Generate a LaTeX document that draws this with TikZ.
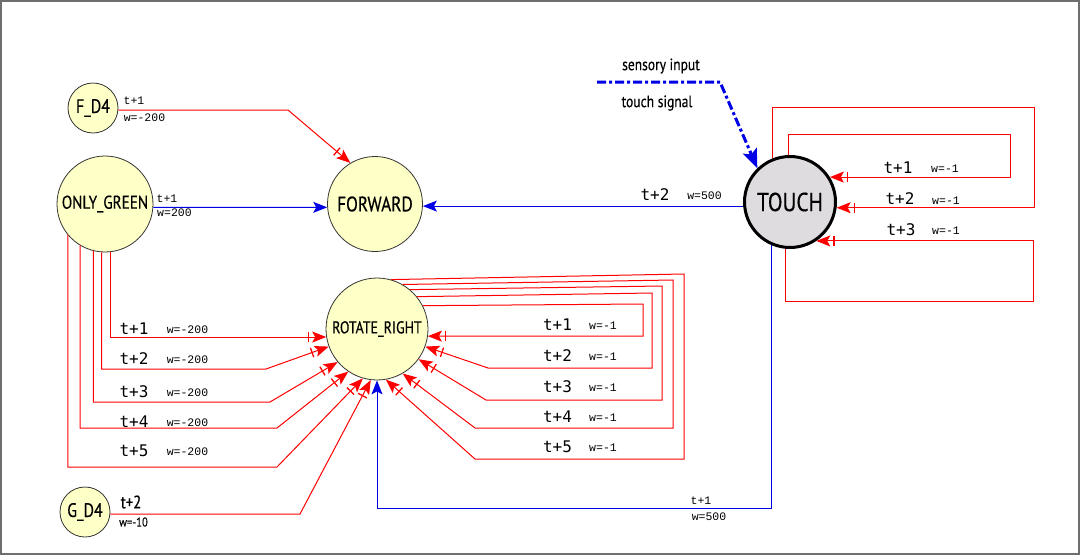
\documentclass[tikz,border=0pt]{standalone}
\usepackage{fontspec}
\usetikzlibrary{arrows.meta,calc}
\newfontfamily\nodefont[FakeStretch=0.82,FakeBold=0.4]{PT Sans}
\newfontfamily\smallmono{Liberation Mono}
\newfontfamily\bigmono{DejaVu Sans Mono}
\definecolor{nodefill}{RGB}{255,255,200}
\definecolor{touchfill}{RGB}{222,220,222}
\definecolor{framegray}{RGB}{110,110,110}
\definecolor{myred}{RGB}{255,0,0}
\definecolor{myblue}{RGB}{0,0,230}
\begin{document}
\begin{tikzpicture}[x=1pt,y=-1pt,
 neuron/.style={circle, draw=black!80, line width=0.8pt, fill=nodefill, inner sep=0pt},
 inh/.style={draw=myred, line width=1pt, -{Bar[width=10pt,line width=1.3pt,sep=3pt]Stealth[length=14pt,width=11pt,inset=3pt]}},
 exc/.style={draw=myblue, line width=1pt, -{Stealth[length=14pt,width=11pt,inset=3pt]}},
 sm/.style={font=\smallmono\fontsize{11.5}{12}\selectfont, inner sep=0pt},
 bg/.style={font=\bigmono\fontsize{16}{18}\selectfont, inner sep=0pt},
]
\useasboundingbox (0,0) rectangle (1080,555);
\draw[framegray, line width=2pt] (1,1) rectangle (1079,554);

% neurons
\node[neuron, minimum size=50pt, font=\nodefont\fontsize{19.5}{21}\selectfont] (FD4) at (93,108) {F\_D4};
\node[neuron, minimum size=96pt, font=\nodefont\fontsize{18.5}{20}\selectfont] (OG) at (105,204) {ONLY\_GREEN};
\node[neuron, minimum size=95pt, font=\nodefont\fontsize{21}{23}\selectfont] (FW) at (375,204) {FORWARD};
\node[neuron, minimum size=102pt, font=\nodefont\fontsize{17}{19}\selectfont] (RR) at (377,329) {ROTATE\_RIGHT};
\node[neuron, minimum size=50pt, font=\nodefont\fontsize{19.5}{21}\selectfont] (GD4) at (85,512) {G\_D4};
\node[circle, draw=black, line width=3pt, fill=touchfill, minimum size=91pt, inner sep=0pt, font=\nodefont\fontsize{26}{28}\selectfont] (TO) at (790,202) {TOUCH};

% sensory input
\coordinate (s0) at (597,82);
\coordinate (s1) at (720,82);
\draw[draw=myblue, line width=3pt, dash pattern=on 9pt off 3pt on 3pt off 3pt, -{Stealth[length=19pt,width=15pt,inset=4pt]}] (s0) -- (s1) -- (TO.134);
\node[font=\nodefont\fontsize{16.5}{18}\selectfont, inner sep=0pt] (sin) at (661,66) {sensory input};
\node[font=\nodefont\fontsize{16.5}{18}\selectfont, inner sep=0pt] (tsig) at (657,103) {touch signal};

% to FORWARD
\coordinate (f1) at (288,110);
\draw[inh] (FD4.-5) -- (f1) -- (FW.121);
\node[sm] (lf1) at (134,101) {t+1};
\node[sm] (lf2) at (144.5,118) {w=-200};
\draw[exc] (OG.-4) -- (FW.184);
\node[sm] (lo1) at (167,199) {t+1};
\node[sm] (lo2) at (174.5,213) {w=200};
\draw[exc] (TO.185) -- (FW.east |- TO.185);
\node[bg] (lt1) at (655,195) {t+2};
\node[sm] (lt2) at (704.5,196) {w=500};

% TOUCH self loops
\coordinate (ta) at (1010,134);
\draw[inh] (TO.92) |- (ta) |- (TO.32);
\coordinate (tb) at (1034,107);
\draw[inh] (TO.112) |- (tb) |- (TO.-7);
\coordinate (tc) at (1033,301);
\draw[inh] (TO.265) |- (tc) |- (TO.-56);
\node[bg] (la1) at (898,168) {t+1};
\node[sm] (la2) at (945,169) {w=-1};
\node[bg] (lb1) at (900,199) {t+2};
\node[sm] (lb2) at (946,201) {w=-1};
\node[bg] (lc1) at (901,230) {t+3};
\node[sm] (lc2) at (946,231) {w=-1};

% TOUCH -> ROTATE_RIGHT
\coordinate (bb) at (377,508);
\draw[exc] (TO.247) |- (bb) -- (RR.south);
\node[sm] (lbb1) at (701,501) {t+1};
\node[sm] (lbb2) at (709,517) {w=500};

% ROTATE_RIGHT self loops
\coordinate (r1) at (643,304);
\draw[inh] (RR.27) -- (r1) |- (RR.-8);
\coordinate (r2a) at (652,293); \coordinate (r2b) at (488,368);
\draw[inh] (RR.39) -- (r2a) |- (r2b) -- (RR.-20);
\coordinate (r3a) at (662,286); \coordinate (r3b) at (486,400);
\draw[inh] (RR.50) -- (r3a) |- (r3b) -- (RR.-36);
\coordinate (r4a) at (673,280); \coordinate (r4b) at (475,428);
\draw[inh] (RR.60) -- (r4a) |- (r4b) -- (RR.-60);
\coordinate (r5a) at (684,274); \coordinate (r5b) at (475,459);
\draw[inh] (RR.74) -- (r5a) |- (r5b) -- (RR.-80);
\foreach \i/\y in {1/325,2/356,3/387,4/417,5/447}{
  \node[bg] (rt\i) at (557.5,\y) {t+\i};
  \node[sm] (rw\i) at (603,\y+1) {w=-1};
}

% ONLY_GREEN -> ROTATE_RIGHT
\draw[inh] (OG.-83) |- (RR.189);
\coordinate (l2) at (266,369);
\draw[inh] (OG.-94) |- (l2) -- (RR.200);
\coordinate (l3) at (270,402);
\draw[inh] (OG.-104) |- (l3) -- (RR.220);
\coordinate (l4) at (277,428);
\draw[inh] (OG.-121) |- (l4) -- (RR.236);
\coordinate (l5) at (277,467);
\draw[inh] (OG.-140) |- (l5) -- (RR.254);
\foreach \i/\y in {1/329,2/359,3/392,4/422,5/451}{
  \node[bg] (lt\i x) at (134,\y) {t+\i};
  \node[sm] (lw\i) at (187.5,\y+1) {w=-200};
}

% G_D4 -> ROTATE_RIGHT
\coordinate (g1) at (300,514);
\draw[inh] (GD4.-5) -- (g1) -- (RR.263);
\node[font=\nodefont\fontsize{18}{20}\selectfont, inner sep=0pt] (lg1) at (131,502) {t+2};
\node[font=\nodefont\fontsize{13}{15}\selectfont, inner sep=0pt] (lg2) at (133.5,522) {w=-10};
\end{tikzpicture}
\end{document}
